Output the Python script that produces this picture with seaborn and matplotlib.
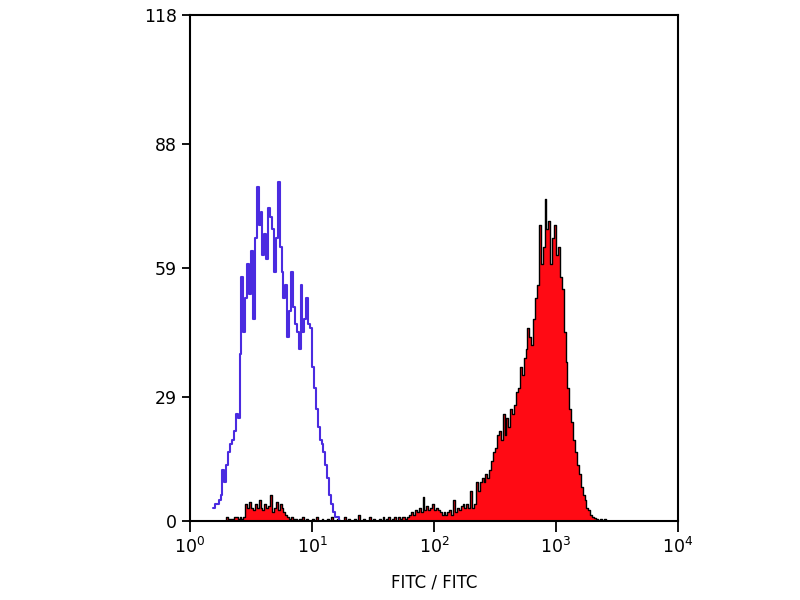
import numpy as np
import pandas as pd
import matplotlib
matplotlib.use("Agg")
import matplotlib.pyplot as plt
import seaborn as sns

# 256 channels over 4 decades -> 64 channels per decade
chan_per_decade = 64

# isotype control (open, blue outline), counts per channel starting at blue_start
blue_start = 12
blue_counts = [3, 4, 4, 5, 6, 12, 9, 13, 16, 18, 19, 21, 25, 24, 39, 57,
               44, 52, 60, 53, 63, 47, 66, 78, 69, 72, 62, 67, 61, 73, 71, 68,
               58, 66, 79, 64, 58, 52, 55, 43, 49, 58, 50, 46, 44, 40, 55, 44,
               47, 52, 46, 45, 36, 31, 26, 22, 19, 18, 16, 13, 10, 6, 4, 2,
               1, 1, 0]

# stained sample (filled red), counts per channel starting at red_start
red_start = 19
red_counts = [1, 0.5, 0.5, 0.5, 1, 1, 0.5, 1, 0.5, 1, 4, 3, 4.5, 3, 2.5, 4,
              3, 5, 3, 2.5, 4, 3, 3.5, 6, 2, 3, 4.5, 2.5, 4, 3, 2, 1.5,
              1, 0.5, 1, 0.5, 0.5, 0, 0.5, 0, 1, 0, 0.5, 0, 0, 0.5, 0, 1,
              0, 0, 0.5, 0, 0, 0.5, 0, 1, 0, 0, 0.5, 0, 0, 0, 1, 0,
              0.5, 0, 0, 0.5, 0, 1.5, 0, 0, 0.5, 0, 0, 1, 0, 0.5, 0, 0,
              0.5, 0, 1, 0, 0.5, 1, 0, 0.5, 1, 0, 1, 0.5, 1, 1, 0.5, 1,
              1.5, 2, 1.5, 2.5, 2, 3, 2, 5.5, 2.5, 3.5, 2.5, 3, 4, 2.5, 3, 2.5,
              2, 1.5, 2, 1.5, 2, 2.5, 1.5, 5, 2, 3, 2.5, 3.5, 4, 3, 4, 3,
              7, 3, 4, 9, 7, 9, 10, 9, 11, 10, 12, 14, 16, 17, 20, 21,
              19, 25, 20, 24, 22, 26, 25, 27, 30, 31, 36, 34, 38, 40, 45, 43,
              41, 47, 52, 55, 69, 60, 64, 75, 68, 70, 60, 66, 69, 62, 64, 57,
              54, 44, 37, 31, 26, 23, 19, 16, 13, 11, 8, 6, 5, 3, 2.5, 1.5,
              1, 0.8, 0.5, 0, 0.5, 0, 0.5]

y_ticks = [0, 29, 59, 88, 118]
x_ticks = [1, 10, 100, 1000, 10000]


def channel_frame(start, counts):
    ch = np.arange(start, start + len(counts))
    return pd.DataFrame({"fitc": 10 ** ((ch + 0.5) / chan_per_decade),
                         "count": counts})


red = channel_frame(red_start, red_counts)
blue = channel_frame(blue_start, blue_counts)

sns.set_style("ticks")
plt.rcParams["font.family"] = ["DejaVu Sans"]

fig = plt.figure(figsize=(8, 6), dpi=100)
ax = fig.add_axes([0.2375, 0.1317, 0.61, 0.8433])

sns.histplot(data=red, x="fitc", weights="count",
             bins=len(red_counts),
             binrange=(red_start / chan_per_decade,
                       (red_start + len(red_counts)) / chan_per_decade),
             log_scale=True, element="step", fill=True,
             color="#ff0a14", edgecolor="black", linewidth=1.0, alpha=1,
             ax=ax)
sns.histplot(data=blue, x="fitc", weights="count",
             bins=len(blue_counts),
             binrange=(blue_start / chan_per_decade,
                       (blue_start + len(blue_counts)) / chan_per_decade),
             log_scale=True, element="step", fill=False,
             color="#4a2be0", linewidth=1.5, ax=ax)

ax.set_xlim(1, 10000)
ax.set_ylim(0, 118)
ax.set_xticks(x_ticks)
ax.minorticks_off()
ax.set_yticks(y_ticks)
ax.set_yticklabels([str(v) for v in y_ticks])
ax.set_xlabel("FITC / FITC", fontsize=12, color="black", labelpad=12)
ax.set_ylabel("")
for s in ax.spines.values():
    s.set_visible(True)
    s.set_linewidth(1.5)
    s.set_color("black")
ax.tick_params(axis="both", labelsize=12.5, width=1.3, color="black",
               labelcolor="black")
ax.tick_params(axis="y", length=6)
ax.tick_params(axis="x", length=8)

fig.savefig("out.png", dpi=100, facecolor="white")
